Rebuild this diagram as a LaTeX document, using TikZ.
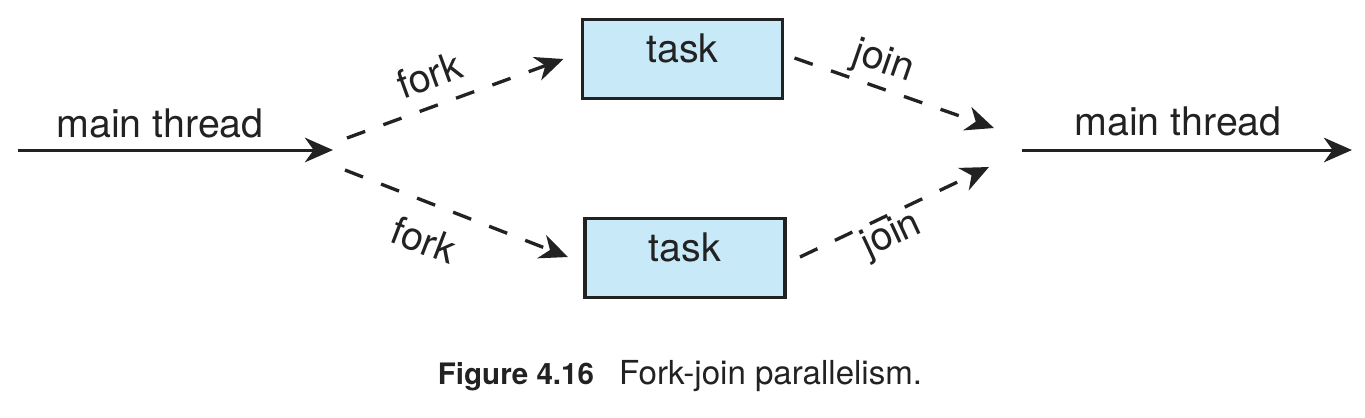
\documentclass[tikz,border=0pt]{standalone}
\usepackage{fontspec}
\setmainfont{TeX Gyre Heros}
\usetikzlibrary{arrows.meta,positioning}
\definecolor{taskblue}{HTML}{C8E9F8}
\definecolor{ink}{HTML}{222222}

\begin{document}
\begin{tikzpicture}[x=0.01cm,y=-0.01cm]
\tikzstyle{taskbox}=[rectangle,draw=ink,fill=taskblue,line width=1.1pt,minimum width=2cm,minimum height=0.79cm,text height=8pt,text depth=5.8pt,text=ink,font=\fontsize{11.2}{13}\selectfont]
\tikzstyle{lbl}=[inner sep=0pt,text=ink,font=\fontsize{11.2}{13}\selectfont]
\tikzstyle{thread}=[draw=ink,line width=0.85pt,-{Stealth[length=8pt,width=7pt,inset=2.5pt]}]
\tikzstyle{flow}=[thread,line width=0.95pt,dash pattern=on 5.5pt off 5.5pt]
\useasboundingbox (0,0) rectangle (1365,417);
% tasks
\node[taskbox] (task1) at (682.5,59) {task};
\node[taskbox] (task2) at (685,258) {task};
% thread ends
\coordinate (start) at (18,150);
\coordinate (forkpt) at (333,150);
\coordinate (forkA) at (347,138);
\coordinate (forkB) at (345,170);
\coordinate (joinA) at (994,128);
\coordinate (joinB) at (989,167);
\coordinate (outA) at (1022,150);
\coordinate (outB) at (1352,150);
\draw[thread] (start) -- (forkpt);
\draw[thread] (outA) -- (outB);
\draw[flow] (forkA) -- ([xshift=-0.17cm]task1.west);
\draw[flow] (forkB) -- ([xshift=-0.15cm,yshift=0.01cm]task2.west);
\draw[flow] ([xshift=0.1cm,yshift=0.01cm]task1.east) -- (joinA);
\draw[flow] ([xshift=0.13cm,yshift=0.01cm]task2.east) -- (joinB);
% labels
\node[lbl] (mainin) at (160,123) {main thread};
\node[lbl] (mainout) at (1178,121) {main thread};
\node[lbl,rotate=20] (fork1) at (429,75) {fork};
\node[lbl,rotate=-21] (fork2) at (424,240) {fork};
\node[lbl,rotate=-19] (join1) at (883,63) {join};
\node[lbl,rotate=25] (join2) at (892,236) {join};
\node[anchor=base,inner sep=0pt,text=ink] (caption) at (680,384)
  {\fontsize{8.4}{10}\selectfont\bfseries Figure 4.16\hspace{0.85em}\fontsize{9.4}{11}\selectfont\mdseries Fork-join parallelism.};
\end{tikzpicture}
\end{document}
